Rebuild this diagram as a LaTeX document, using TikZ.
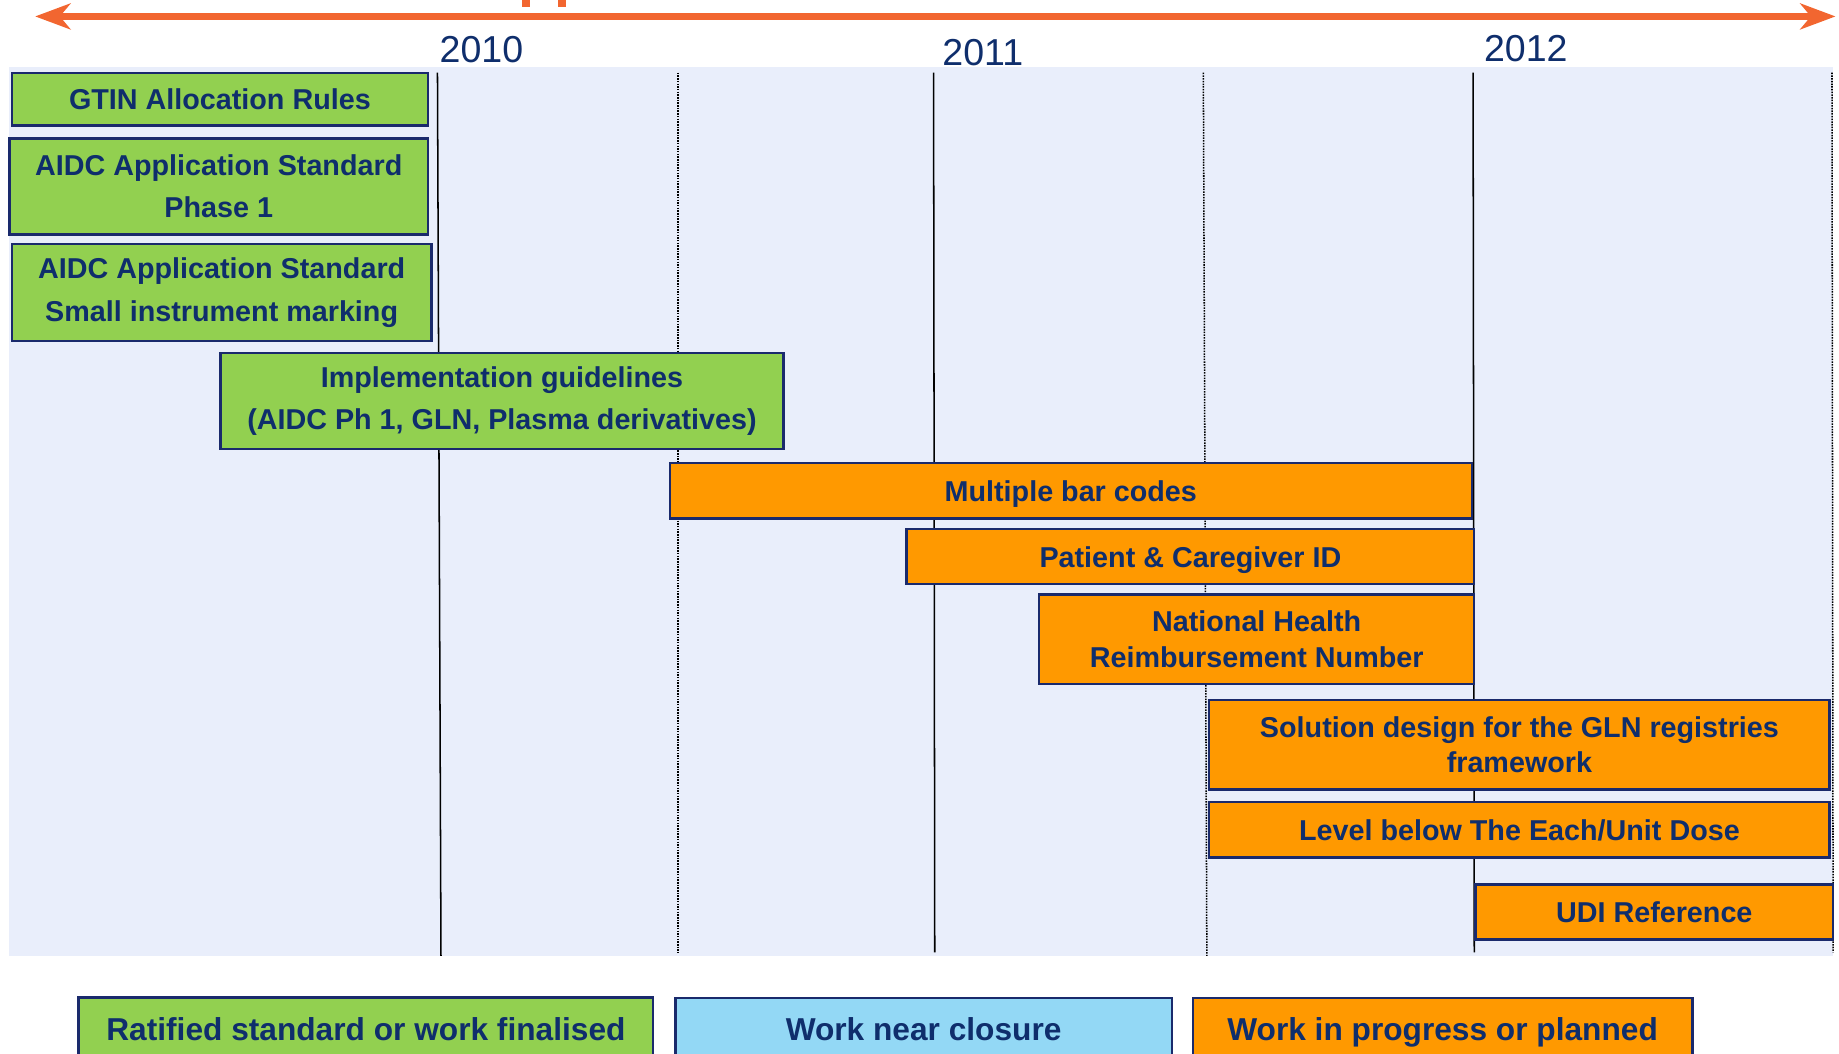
\documentclass[tikz,border=0pt]{standalone}
\usepackage{fontspec}
\setmainfont{Liberation Sans}
\usetikzlibrary{arrows.meta}

\definecolor{navy}{HTML}{1A2A6C}
\definecolor{textnavy}{HTML}{0F2E6C}
\definecolor{panelblue}{HTML}{E9EEFB}
\definecolor{donegreen}{HTML}{92D050}
\definecolor{workorange}{HTML}{FF9900}
\definecolor{nearblue}{HTML}{93D8F5}
\definecolor{axisorange}{HTML}{F26630}

\begin{document}
\begin{tikzpicture}[
    x=1pt, y=-1pt,
    task/.style={
        rectangle, draw=navy, line width=2pt, inner sep=0pt,
        text=textnavy, align=center,
        font=\fontsize{24.5}{36}\selectfont\bfseries
    },
    oneline/.style={text height=18pt, text depth=0pt},
    greenbox/.style={task, fill=donegreen},
    orangebox/.style={task, fill=workorange},
    legendbox/.style={task, oneline, font=\fontsize{27}{32}\selectfont\bfseries},
    yearlabel/.style={text=textnavy, font=\fontsize{32}{36}\selectfont},
    yearline/.style={black, line width=1.3pt},
    halfline/.style={black, line width=1.3pt, densely dotted},
    timeline/.style={
        {Stealth[length=30pt,width=22pt,inset=9pt]}-{Stealth[length=30pt,width=22pt,inset=9pt]},
        axisorange, line width=6pt
    }
]
\useasboundingbox (0,0) rectangle (1568,898);
\clip (0,0) rectangle (1568,898);

% Sfondo
\fill[panelblue] (8,57) rectangle (1563,815);

% Asse del tempo
\coordinate (tlleft) at (30,14);
\coordinate (tlright) at (1565,14);
\draw[timeline] (tlleft) -- (tlright);
\fill[axisorange] (445,0) rectangle (452,6);
\fill[axisorange] (476,0) rectangle (483,6);

% Anni
\node[yearlabel] (y2010) at (410.5,42) {2010};
\node[yearlabel] (y2011) at (838,44.5) {2011};
\node[yearlabel] (y2012) at (1301,41.5) {2012};

% Linee anni e semestri
\draw[yearline] (373,62) -- (376,815);
\draw[halfline] (578,62) -- (578,812);
\draw[yearline] (796,62) -- (797,812);
\draw[halfline] (1026,62) -- (1029,815);
\draw[yearline] (1256,62) -- (1257,812);
\draw[halfline] (1562,62) -- (1563,812);

% Lavori conclusi
\node[greenbox, oneline, minimum width=355pt, minimum height=45pt] (gtin) at (187.5,84.5) {GTIN Allocation Rules};
\node[greenbox, minimum width=357pt, minimum height=82pt] (aidcone) at (186.5,159) {AIDC Application Standard\\Phase 1};
\node[greenbox, minimum width=358pt, minimum height=83pt] (aidcsmall) at (189,249.5) {AIDC Application Standard\\Small instrument marking};
\node[greenbox, minimum width=480pt, minimum height=82pt] (impl) at (428,342) {Implementation guidelines\\(AIDC Ph 1, GLN, Plasma derivatives)};

% Lavori in corso
\node[orangebox, oneline, minimum width=684pt, minimum height=47pt] (barcodes) at (913,418.5) {Multiple bar codes};
\node[orangebox, oneline, minimum width=484pt, minimum height=47pt] (patient) at (1015,474.5) {Patient \& Caregiver ID};
\node[orangebox, minimum width=371pt, minimum height=76pt, font=\fontsize{24.5}{30}\selectfont\bfseries] (nhrn) at (1071.5,545) {National Health\\Reimbursement Number};
\node[orangebox, minimum width=529pt, minimum height=76pt, font=\fontsize{24.5}{30}\selectfont\bfseries] (glnreg) at (1295.5,635) {Solution design for the GLN registries\\framework};
\node[orangebox, oneline, minimum width=529pt, minimum height=47pt] (unitdose) at (1295.5,707.5) {Level below The Each/Unit Dose};
\node[orangebox, oneline, minimum width=305pt, minimum height=47pt] (udi) at (1410.5,777.5) {UDI Reference};

% Legenda
\node[legendbox, fill=donegreen, minimum width=490pt, minimum height=55pt] (legdone) at (312,878) {Ratified standard or work finalised};
\node[legendbox, fill=nearblue, minimum width=423pt, minimum height=54pt] (legnear) at (787.5,878) {Work near closure};
\node[legendbox, fill=workorange, minimum width=426pt, minimum height=54pt] (legwork) at (1230,878) {Work in progress or planned};

\end{tikzpicture}
\end{document}
